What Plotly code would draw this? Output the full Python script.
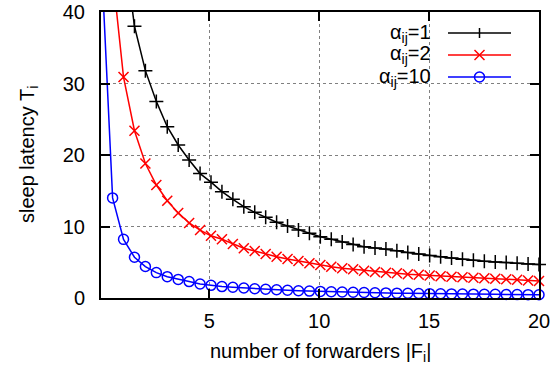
import plotly.graph_objects as go

# sample positions (number of forwarders |F_i|)
forwarders = [0.1, 0.598, 1.095, 1.593, 2.09, 2.588, 3.085, 3.583, 4.08, 4.578,
              5.075, 5.573, 6.07, 6.568, 7.065, 7.563, 8.06, 8.558, 9.055, 9.553,
              10.05, 10.548, 11.045, 11.543, 12.04, 12.538, 13.035, 13.533, 14.03, 14.528,
              15.025, 15.523, 16.02, 16.518, 17.015, 17.513, 18.01, 18.508, 19.005, 19.503, 20.0]

latency_a1 = [None, None, 50.0, 38.0, 31.8, 27.5, 23.95, 21.4, 19.3, 17.4,
              16.2, 14.87, 13.8, 12.77, 11.98, 11.28, 10.59, 10.07, 9.51, 9.05,
              8.57, 8.2, 7.83, 7.5, 7.17, 7.0, 6.85, 6.6, 6.37, 6.15,
              5.95, 5.76, 5.6, 5.43, 5.29, 5.15, 5.05, 4.95, 4.85, 4.76, 4.67]

latency_a2 = [None, 45.3, 30.9, 23.4, 18.8, 15.8, 13.6, 11.9, 10.5, 9.5,
              8.7, 8.21, 7.55, 6.95, 6.57, 6.15, 5.78, 5.45, 5.17, 4.85,
              4.62, 4.38, 4.15, 4.01, 3.82, 3.64, 3.54, 3.45, 3.33, 3.24,
              3.14, 3.05, 2.97, 2.9, 2.83, 2.76, 2.69, 2.62, 2.55, 2.46, 2.38]

latency_a10 = [46.5, 14.0, 8.2, 5.7, 4.4, 3.55, 2.98, 2.6, 2.3, 1.96,
               1.77, 1.6, 1.5, 1.4, 1.3, 1.22, 1.15, 1.08, 1.02, 0.97,
               0.92, 0.88, 0.84, 0.8, 0.77, 0.74, 0.71, 0.68, 0.66, 0.63,
               0.61, 0.59, 0.57, 0.56, 0.54, 0.52, 0.51, 0.49, 0.48, 0.47, 0.46]

series_labels = ["α<sub>ij</sub>=1", "α<sub>ij</sub>=2", "α<sub>ij</sub>=10"]
series_colors = ["#000000", "#ff0000", "#0000ff"]
series_symbols = ["cross-thin", "x-thin", "circle-open"]
series_values = [latency_a1, latency_a2, latency_a10]

x_ticks = [5, 10, 15, 20]
y_ticks = [0, 10, 20, 30, 40]

FONT = "Liberation Sans, Arial, sans-serif"
W, H = 553, 373
L, R, T, B = 101, 14, 12, 75
PW, PH = W - L - R, H - T - B


def px(x):
    return (x - L) / PW


def py(y):
    return (H - B - y) / PH


fig = go.Figure()
for vals, col, sym, lab in zip(series_values, series_colors, series_symbols, series_labels):
    fig.add_trace(go.Scatter(x=forwarders, y=vals, mode="lines",
                             line=dict(color=col, width=1.5), showlegend=False,
                             connectgaps=False, hoverinfo="skip"))
    fig.add_trace(go.Scatter(x=forwarders, y=vals, mode="markers",
                             marker=dict(symbol=sym, size=10,
                                         color=col, line=dict(color=col, width=1.5)),
                             cliponaxis=False, showlegend=False, name=lab))

axis_common = dict(showline=True, linewidth=2, linecolor="black", mirror="ticks",
                   ticks="inside", ticklen=9, tickwidth=1.5, tickcolor="black",
                   showgrid=True, gridcolor="#808080", griddash="dot", gridwidth=1,
                   zeroline=False, automargin=False,
                   tickfont=dict(family=FONT, size=20, color="black"))

fig.update_xaxes(range=[0.07, 20], tickvals=x_ticks, ticklabelstandoff=4, **axis_common)
fig.update_yaxes(range=[0, 40], tickvals=y_ticks, ticklabelstandoff=10, **axis_common)

shapes = []
# opaque key area (hides grid behind the key)
shapes.append(dict(type="rect", xref="paper", yref="paper", x0=px(365), x1=px(525),
                   y0=py(90), y1=py(18), fillcolor="white", line=dict(width=0), layer="between"))
annotations = []
rows = [33, 55, 77]
for lab, col, sym, ry in zip(series_labels, series_colors, series_symbols, rows):
    annotations.append(dict(text=lab, xref="paper", yref="paper", x=px(433), y=py(ry),
                            xanchor="right", yanchor="middle", showarrow=False,
                            font=dict(family=FONT, size=20, color="black")))
    shapes.append(dict(type="line", xref="paper", yref="paper", x0=px(448), x1=px(511),
                       y0=py(ry), y1=py(ry), line=dict(color=col, width=1.5)))
    cx = 479.5
    if sym == "cross-thin":
        shapes.append(dict(type="line", xref="paper", yref="paper", x0=px(cx), x1=px(cx),
                           y0=py(ry - 5), y1=py(ry + 5), line=dict(color=col, width=1.5)))
    elif sym == "x-thin":
        for d in (1, -1):
            shapes.append(dict(type="line", xref="paper", yref="paper", x0=px(cx - 5), x1=px(cx + 5),
                               y0=py(ry - 5 * d), y1=py(ry + 5 * d), line=dict(color=col, width=1.5)))
    else:
        shapes.append(dict(type="circle", xref="paper", yref="paper", x0=px(cx - 5), x1=px(cx + 5),
                           y0=py(ry + 5), y1=py(ry - 5), line=dict(color=col, width=1.5)))

annotations.append(dict(text="sleep latency T<sub>i</sub>", xref="paper", yref="paper",
                        x=px(28), y=py(155), xanchor="center", yanchor="middle", textangle=-90,
                        showarrow=False, font=dict(family=FONT, size=20, color="black")))
annotations.append(dict(text="number of forwarders |F<sub>i</sub>|", xref="paper", yref="paper",
                        x=px(320), y=py(352), xanchor="center", yanchor="middle",
                        showarrow=False, font=dict(family=FONT, size=20, color="black")))

fig.update_layout(width=W, height=H, margin=dict(l=L, r=R, t=T, b=B, pad=0),
                  paper_bgcolor="white", plot_bgcolor="white", showlegend=False,
                  shapes=shapes, annotations=annotations)

fig.write_html("out.html")
